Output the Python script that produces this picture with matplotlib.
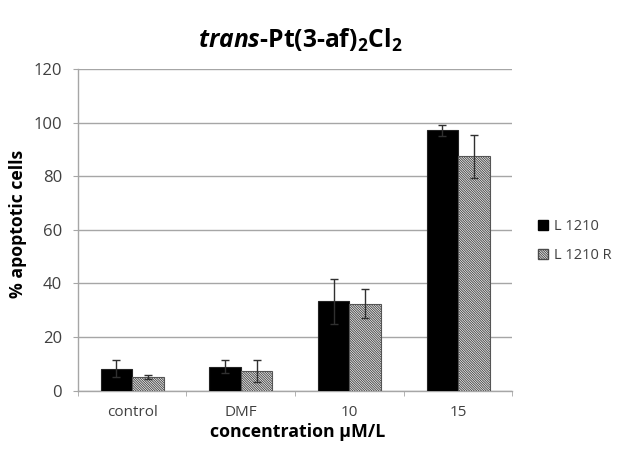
import numpy as np
import matplotlib
matplotlib.use('Agg')
import matplotlib.pyplot as plt
from matplotlib.patches import Patch

plt.rcParams['font.family'] = ['Open Sans', 'DejaVu Sans']
plt.rcParams['mathtext.fontset'] = 'custom'
plt.rcParams['mathtext.rm'] = 'Open Sans'
plt.rcParams['mathtext.it'] = 'Open Sans:italic:bold'
plt.rcParams['mathtext.bf'] = 'Open Sans:bold'
plt.rcParams['hatch.linewidth'] = 0.7

# data
categories = ['control', 'DMF', '10', '15']
series = ['L 1210', 'L 1210 R']
l1210 = [8.2, 9.0, 33.3, 97.1]
l1210_err = [3.1, 2.3, 8.4, 2.0]
l1210r = [5.0, 7.5, 32.5, 87.4]
l1210r_err = [0.8, 4.1, 5.5, 8.0]

GRID = '#a6a6a6'
TXT = '#404040'
ERR = '#303030'
HATCH = '\\' * 14

fig = plt.figure(figsize=(6.18, 4.49), dpi=100)
ax = fig.add_axes([0.126, 0.130, 0.703, 0.716])

x = np.arange(len(categories))
w = 0.29
ax.bar(x - w / 2, l1210, w, color='black', edgecolor='#222222', linewidth=0.8,
       zorder=3)
ax.errorbar(x - w / 2, l1210, yerr=l1210_err, fmt='none', ecolor=ERR,
            elinewidth=1, capsize=3, capthick=1, zorder=4)
# hatched bars: hatch in grey, outline drawn separately
ax.bar(x + w / 2, l1210r, w, color='white', edgecolor='#4a4a4a',
       hatch=HATCH, linewidth=0, zorder=3)
ax.bar(x + w / 2, l1210r, w, fill=False, edgecolor='#555555', linewidth=0.8,
       zorder=3)
ax.errorbar(x + w / 2, l1210r, yerr=l1210r_err, fmt='none', ecolor=ERR,
            elinewidth=1, capsize=3, capthick=1, zorder=4)

ax.set_xlim(-0.5, len(categories) - 0.5)
ax.set_ylim(0, 120)
ax.set_yticks(np.arange(0, 121, 20))
ax.set_xticks(x)
ax.set_xticklabels(categories)
ax.set_xticks(np.arange(-0.5, len(categories)), minor=True)
ax.tick_params(axis='x', which='major', length=0, labelsize=11, colors=TXT,
               pad=10)
ax.tick_params(axis='x', which='minor', length=3.6, color=GRID)
ax.tick_params(axis='y', length=3.6, color=GRID, labelsize=12, labelcolor=TXT,
               pad=7.7)
ax.grid(axis='y', color=GRID, linewidth=1, zorder=0)
ax.set_axisbelow(True)
for s in ['top', 'right']:
    ax.spines[s].set_visible(False)
for s in ['left', 'bottom']:
    ax.spines[s].set_color(GRID)
    ax.spines[s].set_linewidth(1)

ax.set_ylabel('% apoptotic cells', fontsize=12.7, fontweight='bold')
ax.yaxis.set_label_coords(-0.1175, 0.52)
ax.set_xlabel('concentration µM/L', fontsize=12.8, fontweight='bold')
ax.xaxis.set_label_coords(0.505, -0.10)
fig.text(0.486, 0.911, r'$\mathit{trans}$-Pt(3-af)$_\mathbf{2}$Cl$_\mathbf{2}$',
         ha='center', va='center', fontsize=17.7, fontweight='bold')

handles = [Patch(facecolor='black', edgecolor='black'),
           Patch(facecolor='white', edgecolor='#4a4a4a', hatch=HATCH)]
fig.legend(handles, series, loc='center left', bbox_to_anchor=(0.8706, 0.463),
           frameon=False, fontsize=10.5, handlelength=0.69, handleheight=0.69,
           handletextpad=0.41, labelspacing=0.95, borderpad=0,
           borderaxespad=0, labelcolor=TXT)

fig.savefig('out.png', dpi=100)
